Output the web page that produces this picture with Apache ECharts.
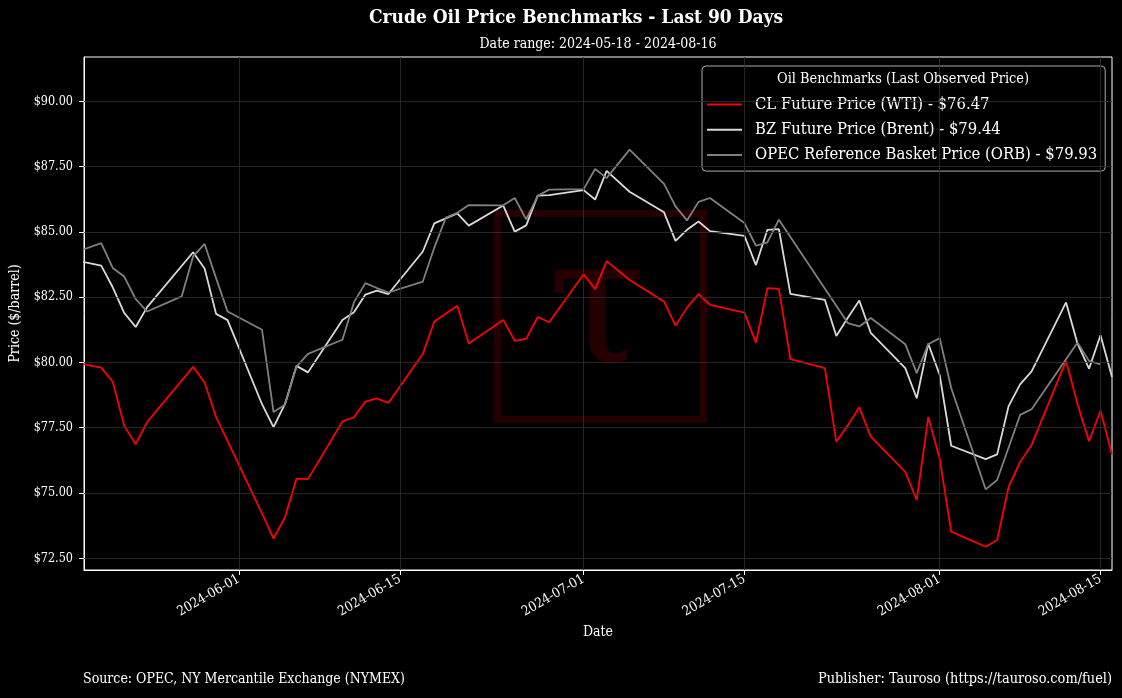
<!DOCTYPE html>
<html><head><meta charset="utf-8">
<script src="https://cdn.jsdelivr.net/npm/echarts@6/dist/echarts.min.js"></script>
<style>html,body{margin:0;background:#000}#c{width:1122px;height:698px}</style>
</head><body><div id="c"></div>
<script>
// ---- data ----
const usDates = ['2024-05-17','2024-05-20','2024-05-21','2024-05-22','2024-05-23','2024-05-24',
 '2024-05-28','2024-05-29','2024-05-30','2024-05-31',
 '2024-06-03','2024-06-04','2024-06-05','2024-06-06','2024-06-07',
 '2024-06-10','2024-06-11','2024-06-12','2024-06-13','2024-06-14',
 '2024-06-17','2024-06-18','2024-06-20','2024-06-21',
 '2024-06-24','2024-06-25','2024-06-26','2024-06-27','2024-06-28',
 '2024-07-01','2024-07-02','2024-07-03','2024-07-05',
 '2024-07-08','2024-07-09','2024-07-10','2024-07-11','2024-07-12',
 '2024-07-15','2024-07-16','2024-07-17','2024-07-18','2024-07-19',
 '2024-07-22','2024-07-23','2024-07-24','2024-07-25','2024-07-26',
 '2024-07-29','2024-07-30','2024-07-31','2024-08-01','2024-08-02',
 '2024-08-05','2024-08-06','2024-08-07','2024-08-08','2024-08-09',
 '2024-08-12','2024-08-13','2024-08-14','2024-08-15','2024-08-16'];
const wti = [80.06,
 79.80,79.26,77.57,76.87,77.72,
 79.83,79.23,77.91,76.99,
 74.22,73.25,74.07,75.55,75.53,
 77.74,77.90,78.50,78.62,78.45,
 80.33,81.57,82.17,80.73,
 81.63,80.83,80.90,81.74,81.54,
 83.38,82.81,83.88,83.16,
 82.33,81.41,82.10,82.62,82.21,
 81.91,80.76,82.85,82.82,80.13,
 79.78,76.96,77.59,78.28,77.16,
 75.81,74.73,77.91,76.31,73.52,
 72.94,73.20,75.23,76.19,76.84,
 80.06,78.40,76.98,78.16,76.47];
const brent = [83.98,
 83.71,82.88,81.90,81.36,82.12,
 84.22,83.60,81.86,81.62,
 78.40,77.52,78.41,79.87,79.62,
 81.63,81.92,82.60,82.75,82.62,
 84.25,85.33,85.71,85.24,
 86.01,85.01,85.25,86.39,86.41,
 86.60,86.24,87.34,86.54,
 85.75,84.66,85.08,85.40,85.03,
 84.85,83.73,85.08,85.11,82.63,
 82.40,81.01,81.71,82.37,81.13,
 79.78,78.63,80.72,79.52,76.81,
 76.30,76.48,78.33,79.16,79.66,
 82.30,80.72,79.76,81.04,79.44];
const orbDates = ['2024-05-17','2024-05-20','2024-05-21','2024-05-22','2024-05-23','2024-05-24',
 '2024-05-27','2024-05-28','2024-05-29','2024-05-30','2024-05-31',
 '2024-06-03','2024-06-04','2024-06-05','2024-06-06','2024-06-07',
 '2024-06-10','2024-06-11','2024-06-12','2024-06-13','2024-06-14',
 '2024-06-17','2024-06-18','2024-06-19','2024-06-20','2024-06-21',
 '2024-06-24','2024-06-25','2024-06-26','2024-06-27','2024-06-28',
 '2024-07-01','2024-07-02','2024-07-03','2024-07-05',
 '2024-07-08','2024-07-09','2024-07-10','2024-07-11','2024-07-12',
 '2024-07-15','2024-07-16','2024-07-17','2024-07-18',
 '2024-07-24','2024-07-25','2024-07-26',
 '2024-07-29','2024-07-30','2024-07-31','2024-08-01','2024-08-02',
 '2024-08-05','2024-08-06','2024-08-08','2024-08-09',
 '2024-08-13','2024-08-14','2024-08-15'];
const orb = [84.10,
 84.57,83.62,83.29,82.43,81.95,
 82.53,84.06,84.54,83.23,81.95,
 81.25,78.10,78.38,79.84,80.33,
 80.87,82.30,83.04,82.85,82.68,
 83.10,84.40,85.55,85.73,86.03,
 86.02,86.30,85.48,86.38,86.62,
 86.64,87.41,87.06,88.15,
 86.84,85.98,85.44,86.15,86.30,
 85.34,84.47,84.60,85.47,
 81.51,81.38,81.70,
 80.70,79.59,80.70,80.93,79.02,
 75.14,75.50,77.99,78.21,
 80.76,80.06,79.93];
const xTickDates = ['2024-06-01','2024-06-15','2024-07-01','2024-07-15','2024-08-01','2024-08-15'];
const yTicks = [72.5,75,77.5,80,82.5,85,87.5,90];
const seriesNames = ['CL Future Price (WTI) - $76.47','BZ Future Price (Brent) - $79.44','OPEC Reference Basket Price (ORB) - $79.93'];
const seriesColors = ['#ff0000','#d9d9d9','#808080'];
const xMin = '2024-05-18T12:00:00Z';
const xMax = '2024-08-16T00:00:00Z';
const yMin = 72.05, yMax = 91.7;

// ---- chart ----
const FONT = '"DejaVu Serif Condensed", "DejaVu Serif", serif';
const ts = s => Date.parse(s.length === 10 ? s + 'T00:00:00Z' : s);
const pad = n => (n < 10 ? '0' : '') + n;
const fmtDate = v => { const d = new Date(v); return d.getUTCFullYear() + '-' + pad(d.getUTCMonth()+1) + '-' + pad(d.getUTCDate()); };
const pairs = (ds, vs) => ds.map((d, i) => [ts(d), vs[i]]);
const xTicks = xTickDates.map(ts);

const chart = echarts.init(document.getElementById('c'), null, {renderer: 'canvas'});
const lineSeries = (name, color, data) => ({
  name, type: 'line', data, symbol: 'none', showSymbol: false, silent: true,
  lineStyle: {color, width: 1.8}, itemStyle: {color}, z: 3,
  emphasis: {disabled: true}
});
chart.setOption({
  backgroundColor: '#000',
  animation: false,
  textStyle: {fontFamily: FONT},
  title: [
    {text: 'Source: OPEC, NY Mercantile Exchange (NYMEX)', left: 78, top: 667,
     textStyle: {color: '#fff', fontFamily: FONT, fontSize: 14, fontWeight: 'normal'}},
    {text: 'Publisher: Tauroso (https://tauroso.com/fuel)', right: 5, top: 667,
     textStyle: {color: '#fff', fontFamily: FONT, fontSize: 14.4, fontWeight: 'normal'}}
  ],
  grid: {left: 84, right: 10, top: 57, bottom: 128, show: true, borderColor: '#fff', borderWidth: 1, backgroundColor: 'transparent'},
  legend: {
    data: seriesNames, orient: 'vertical', left: 702, top: 66,
    icon: 'rect', itemWidth: 35, itemHeight: 2,
    padding: [29.5, 8, 7, 5], itemGap: 7.3,
    backgroundColor: 'rgba(0,0,0,0.85)', borderColor: '#aaaaaa', borderWidth: 1, borderRadius: 4,
    textStyle: {color: '#fff', fontFamily: FONT, fontSize: 16.5, lineHeight: 18, padding: [0, 0, 0, 8]},
    selectedMode: false
  },
  xAxis: {
    type: 'value', min: ts(xMin), max: ts(xMax),
    name: 'Date', nameLocation: 'middle', nameGap: 54,
    nameTextStyle: {color: '#fff', fontFamily: FONT, fontSize: 14},
    axisLine: {show: true, lineStyle: {color: '#fff', width: 1}},
    axisTick: {show: true, length: 5, lineStyle: {color: '#fff'}, customValues: xTicks},
    axisLabel: {color: '#fff', fontFamily: FONT, fontSize: 13.5, rotate: 30, margin: 8,
      customValues: xTicks, formatter: v => fmtDate(v), hideOverlap: false},
    splitLine: {show: false}
  },
  yAxis: {
    type: 'value', min: yMin, max: yMax,
    name: 'Price ($/barrel)', nameLocation: 'middle', nameGap: 60, nameRotate: 90,
    nameTextStyle: {color: '#fff', fontFamily: FONT, fontSize: 14},
    axisLine: {show: true, lineStyle: {color: '#fff', width: 1}},
    axisTick: {show: true, length: 5, lineStyle: {color: '#fff'}, customValues: yTicks},
    axisLabel: {color: '#fff', fontFamily: FONT, fontSize: 12.5, margin: 11,
      customValues: yTicks, formatter: v => '$' + Number(v).toFixed(2)},
    splitLine: {show: false}
  },
  graphic: [
    {type: 'text', x: 576, y: 18, z: 100, silent: true,
     style: {text: 'Crude Oil Price Benchmarks - Last 90 Days', fill: '#fff', font: 'bold 19px ' + FONT, align: 'center', verticalAlign: 'middle'}},
    {type: 'text', x: 598, y: 44, z: 100, silent: true,
     style: {text: 'Date range: 2024-05-18 - 2024-08-16', fill: '#fff', font: '14px ' + FONT, align: 'center', verticalAlign: 'middle'}},
    {type: 'rect', left: 494, top: 210, z: 0, silent: true,
     shape: {width: 206, height: 206}, style: {fill: 'none', stroke: '#260000', lineWidth: 7}},
    {type: 'text', x: 597, y: 316, z: 0, silent: true,
     style: {text: 'τ', fill: '#260000', font: '180px "DejaVu Serif"', align: 'center', verticalAlign: 'middle'}},
    {type: 'text', x: 903, y: 79, z: 100, silent: true,
     style: {text: 'Oil Benchmarks (Last Observed Price)', fill: '#fff', font: '14.4px ' + FONT, align: 'center', verticalAlign: 'middle'}}
  ],
  series: [
    {name: 'grid', type: 'line', data: [], silent: true, z: 1,
     markLine: {silent: true, symbol: ['none', 'none'], label: {show: false}, animation: false,
       lineStyle: {color: '#303030', width: 0.8, type: 'solid'}, emphasis: {disabled: true},
       data: [...xTicks.map(t => ({xAxis: t})), ...yTicks.map(v => ({yAxis: v}))]}},
    lineSeries(seriesNames[0], seriesColors[0], pairs(usDates, wti)),
    lineSeries(seriesNames[1], seriesColors[1], pairs(usDates, brent)),
    lineSeries(seriesNames[2], seriesColors[2], pairs(orbDates, orb))
  ]
});
</script></body></html>
